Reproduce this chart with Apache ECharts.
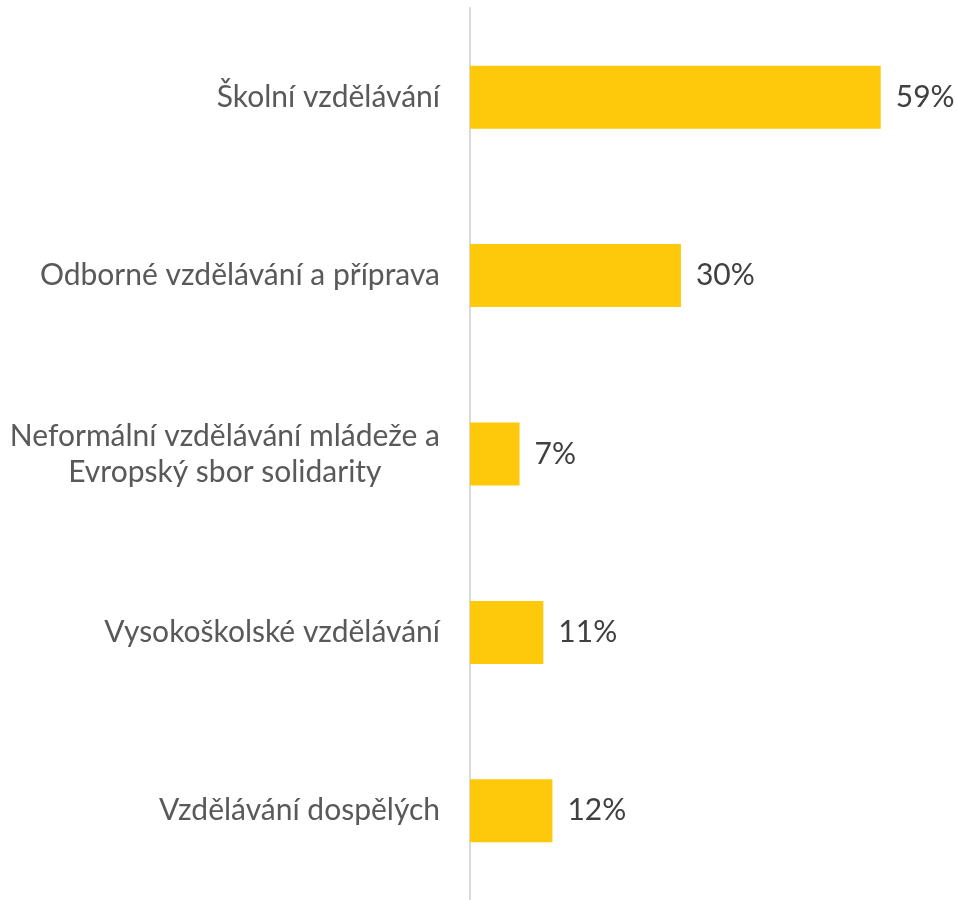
<!DOCTYPE html>
<html><head><meta charset="utf-8">
<script src="https://cdn.jsdelivr.net/npm/echarts@6/dist/echarts.min.js"></script>
<style>html,body{margin:0;padding:0;background:#fff}#c{width:957px;height:900px}</style>
</head><body><div id="c"></div>
<script>
const categories = [
  'Školní vzdělávání',
  'Odborné vzdělávání a příprava',
  'Neformální vzdělávání mládeže a\nEvropský sbor solidarity',
  'Vysokoškolské vzdělávání',
  'Vzdělávání dospělých'
];
const values = [58.8, 30.2, 7.1, 10.5, 11.8];

const FONT = 'Lato';
const FS = 30;
const chart = echarts.init(document.getElementById('c'), null, {renderer: 'canvas'});
chart.setOption({
  animation: false,
  grid: {left: 470, top: 8, width: 475, height: 897, containLabel: false},
  xAxis: {
    type: 'value', min: 0, max: 68,
    show: false
  },
  yAxis: {
    type: 'category', data: categories, inverse: true,
    axisLine: {show: true, lineStyle: {color: '#d9d9d9', width: 2}},
    axisTick: {show: false},
    axisLabel: {
      margin: 30, align: 'right', color: '#595959', fontFamily: FONT, fontSize: FS,
      lineHeight: 36,
      formatter: function (v) {
        return v.split('\n').map(s => '{c|' + s + '}').join('\n');
      },
      rich: {c: {align: 'center', color: '#595959', fontFamily: FONT, fontSize: FS, lineHeight: 36}}
    }
  },
  series: [{
    type: 'bar', data: values, barWidth: 63,
    itemStyle: {color: '#FFC90B'},
    label: {
      show: true, position: 'right', distance: 15,
      color: '#404040', fontFamily: FONT, fontSize: FS,
      formatter: p => Math.round(p.value) + '%'
    }
  }]
});
</script></body></html>
